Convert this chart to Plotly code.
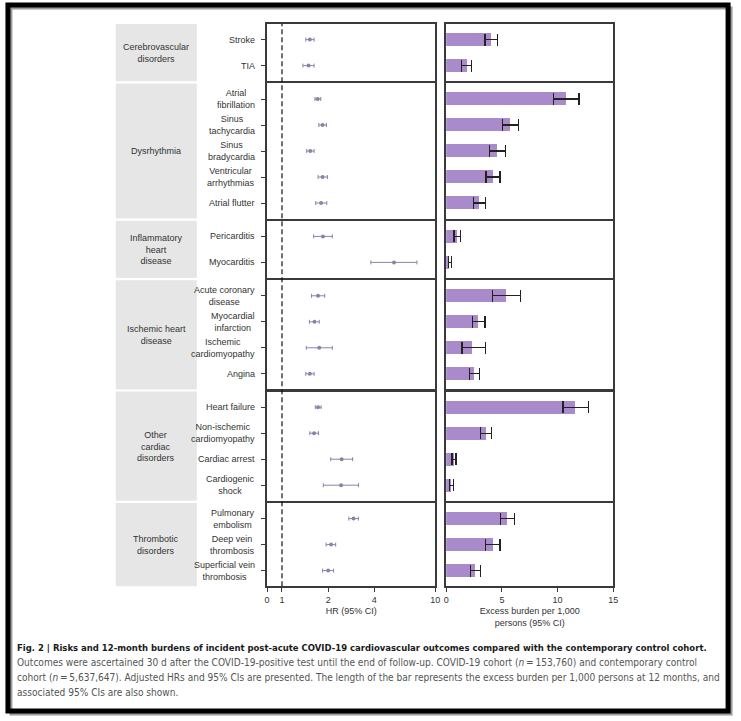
import math
import plotly.graph_objects as go

# groups of outcomes (panel order, top to bottom)
groups = [
    "Cerebrovascular<br>disorders",
    "Dysrhythmia",
    "Inflammatory<br>heart<br>disease",
    "Ischemic heart<br>disease",
    "Other<br>cardiac<br>disorders",
    "Thrombotic<br>disorders",
]
group_sizes = [2, 5, 2, 4, 4, 3]

outcomes = [
    "Stroke", "TIA",
    "Atrial<br>fibrillation", "Sinus<br>tachycardia", "Sinus<br>bradycardia",
    "Ventricular<br>arrhythmias", "Atrial flutter",
    "Pericarditis", "Myocarditis",
    "Acute coronary<br>disease", "Myocardial<br>infarction",
    "Ischemic<br>cardiomyopathy", "Angina",
    "Heart failure", "Non-ischemic<br>cardiomyopathy", "Cardiac arrest",
    "Cardiogenic<br>shock",
    "Pulmonary<br>embolism", "Deep vein<br>thrombosis", "Superficial vein<br>thrombosis",
]

# hazard ratios (95% CI)
hr = [1.52, 1.49, 1.71, 1.84, 1.53, 1.84, 1.80, 1.85, 5.38, 1.72,
      1.63, 1.75, 1.52, 1.72, 1.62, 2.45, 2.43, 2.93, 2.09, 2.00]
hr_lo = [1.43, 1.37, 1.64, 1.74, 1.45, 1.72, 1.66, 1.61, 3.80, 1.56,
         1.51, 1.44, 1.43, 1.65, 1.52, 2.08, 1.86, 2.73, 1.94, 1.84]
hr_hi = [1.62, 1.62, 1.79, 1.95, 1.62, 1.98, 1.96, 2.13, 7.59, 1.90,
         1.75, 2.13, 1.62, 1.80, 1.73, 2.89, 3.16, 3.15, 2.24, 2.17]

# excess burden per 1,000 persons (95% CI)
burden = [4.03, 1.84, 10.74, 5.75, 4.57, 4.18, 3.00, 0.98, 0.31, 5.35,
          2.91, 2.36, 2.50, 11.61, 3.56, 0.69, 0.45, 5.47, 4.18, 2.60]
burden_lo = [3.48, 1.38, 9.61, 5.08, 3.87, 3.58, 2.48, 0.70, 0.20, 4.13,
             2.38, 1.43, 2.07, 10.47, 3.09, 0.53, 0.29, 4.85, 3.56, 2.16]
burden_hi = [4.59, 2.30, 11.91, 6.46, 5.31, 4.82, 3.56, 1.30, 0.46, 6.70,
             3.48, 3.51, 2.97, 12.78, 4.07, 0.87, 0.65, 6.11, 4.84, 3.07]

hr_ticks = [0.8, 1, 2, 4, 10]
hr_ticktext = ["0", "1", "2", "4", "10"]
burden_ticks = [0, 5, 10, 15]

W, H = 741, 721
FONT = "Liberation Sans, Arial, sans-serif"
CAP_FONT = "DejaVu Sans Condensed, sans-serif"
POINT = "#8a82aa"
BAR = "#a98bcb"
LINE = "#3a3a3a"
TXT = "#333333"


def px(x):
    return x / W


def py(y):
    return 1 - y / H


fig = go.Figure()
layout = {}
shapes = []
annotations = []

top, row_px, gap = 24, 26, 2.2
y = top
start = 0
last = len(groups) - 1
for i, (name, n) in enumerate(zip(groups, group_sizes)):
    h = (n + 0.2) * row_px
    dom = [py(y + h), py(y)]
    sl = slice(start, start + n)
    idx = list(range(n))
    xa, xb = f"x{2 * i + 1}", f"x{2 * i + 2}"
    ya, yb = f"y{2 * i + 1}", f"y{2 * i + 2}"

    fig.add_trace(go.Scatter(
        x=hr[sl], y=idx, mode="markers", xaxis=xa, yaxis=ya,
        marker=dict(size=4, color=POINT),
        error_x=dict(type="data", symmetric=False,
                     array=[b - a for a, b in zip(hr[sl], hr_hi[sl])],
                     arrayminus=[a - b for a, b in zip(hr[sl], hr_lo[sl])],
                     color=POINT, thickness=1, width=2),
        showlegend=False,
    ))
    fig.add_trace(go.Bar(
        x=burden[sl], y=idx, orientation="h", xaxis=xb, yaxis=yb,
        width=0.5, marker=dict(color=BAR, line=dict(width=0)),
        error_x=dict(type="data", symmetric=False,
                     array=[b - a for a, b in zip(burden[sl], burden_hi[sl])],
                     arrayminus=[a - b for a, b in zip(burden[sl], burden_lo[sl])],
                     color="#222222", thickness=1.3, width=6),
        showlegend=False,
    ))

    bottom = i == last
    common = dict(showline=True, mirror=True, linecolor=LINE, linewidth=1.5,
                  showgrid=False, zeroline=False, fixedrange=True,
                  tickfont=dict(size=9, color=TXT, family=FONT))
    layout[f"xaxis{2 * i + 1}"] = dict(
        common, type="log", range=[math.log10(0.8), 1], domain=[px(267), px(437)],
        anchor=ya, tickvals=hr_ticks, ticktext=hr_ticktext,
        showticklabels=bottom, ticks="outside" if bottom else "", ticklen=4,
        tickcolor=LINE,
        title=dict(text="HR (95% CI)" if bottom else "",
                   font=dict(size=9, color=TXT, family=FONT), standoff=4),
    )
    layout[f"xaxis{2 * i + 2}"] = dict(
        common, range=[0, 15], domain=[px(448), px(617)], anchor=yb,
        tickvals=burden_ticks, showticklabels=bottom,
        ticks="outside" if bottom else "", ticklen=4, tickcolor=LINE,
        title=dict(text="Excess burden per 1,000<br>persons (95% CI)" if bottom else "",
                   font=dict(size=9, color=TXT, family=FONT), standoff=4),
    )
    layout[f"yaxis{2 * i + 1}"] = dict(
        common, domain=dom, anchor=xa, range=[n - 0.4, -0.6],
        tickvals=idx, showticklabels=False, ticks="outside", ticklen=4,
        tickcolor=LINE,
    )
    layout[f"yaxis{2 * i + 2}"] = dict(
        common, domain=dom, anchor=xb, range=[n - 0.4, -0.6],
        showticklabels=False, ticks="",
    )

    # outcome labels, centred line by line like the original
    for k, lab in zip(idx, outcomes[sl]):
        annotations.append(dict(xref="paper", yref=ya, x=px(257), y=k,
                                xanchor="right", yanchor="middle", align="center",
                                text=lab, showarrow=False,
                                font=dict(size=9, color=TXT, family=FONT)))

    # grey group box with its label
    shapes.append(dict(type="rect", xref="paper", yref="paper",
                       x0=px(114), x1=px(196), y0=dom[0], y1=dom[1],
                       fillcolor="#e6e6e6", line=dict(width=0), layer="below"))
    annotations.append(dict(xref="paper", yref="paper", x=px(155),
                            y=(dom[0] + dom[1]) / 2, xanchor="center",
                            yanchor="middle", align="center", text=name,
                            showarrow=False,
                            font=dict(size=9, color=TXT, family=FONT)))
    start += n
    y += h + gap

# reference line at HR = 1
shapes.append(dict(type="line", xref="x", yref="paper", x0=1, x1=1,
                   y0=py(y - gap), y1=py(top),
                   line=dict(color="#111111", width=1.2, dash="5px,3px")))

# frame of the figure
shapes.append(dict(type="rect", xref="paper", yref="paper",
                   x0=px(8), x1=px(736), y0=py(714), y1=py(8),
                   line=dict(color="#9a9a9a", width=3)))
shapes.append(dict(type="rect", xref="paper", yref="paper",
                   x0=px(5), x1=px(733), y0=py(711), y1=py(5),
                   line=dict(color="#000000", width=5)))

caption = [
    ("<b>Fig. 2 | Risks and 12-month burdens of incident post-acute COVID-19 "
     "cardiovascular outcomes compared with the contemporary control cohort.</b>",
     "#1a1a1a", 9.45),
    ("Outcomes were ascertained 30 d after the COVID-19-positive test until the end "
     "of follow-up. COVID-19 cohort (<i>n</i>\u2009=\u2009153,760) and contemporary control",
     "#555555", 10.05),
    ("cohort (<i>n</i>\u2009=\u20095,637,647). Adjusted HRs and 95% CIs are presented. "
     "The length of the bar represents the excess burden per 1,000 persons at 12 months, and",
     "#555555", 10.05),
    ("associated 95% CIs are also shown.", "#555555", 10.05),
]
for k, (line, color, size) in enumerate(caption):
    annotations.append(dict(xref="paper", yref="paper", x=px(12), y=py(647 + 15 * k),
                            xanchor="left", yanchor="middle", text=line,
                            showarrow=False,
                            font=dict(size=size, color=color, family=CAP_FONT)))

fig.update_layout(
    width=W, height=H, margin=dict(l=0, r=0, t=0, b=0),
    paper_bgcolor="white", plot_bgcolor="white",
    shapes=shapes, annotations=annotations, bargap=0,
    **layout,
)

# the page body has a default 8px margin; drop it so the figure sits at 0,0
fig.write_html("out.html", config={"displayModeBar": False},
               post_script="document.body.style.margin = '0';")
